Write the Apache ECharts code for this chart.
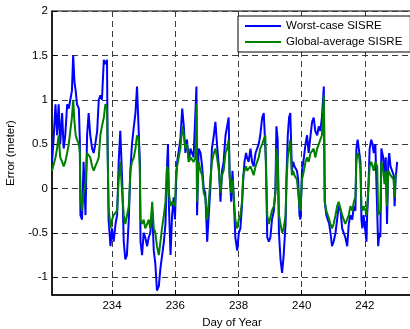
<!DOCTYPE html>
<html><head><meta charset="utf-8">
<script src="https://cdn.jsdelivr.net/npm/echarts@6/dist/echarts.min.js"></script>
<style>html,body{margin:0;padding:0;background:#fff}#c{width:410px;height:329px}</style>
</head><body><div id="c"></div>
<script>
var days = [232.10,232.15,232.21,232.26,232.31,232.36,232.42,232.47,232.52,232.58,232.63,232.68,232.73,232.77,232.81,232.85,232.89,232.95,232.98,233.00,
233.05,233.10,233.16,233.21,233.26,233.31,233.37,233.42,233.47,233.53,233.58,233.63,233.68,233.74,233.79,233.84,233.86,233.89,233.95,234.00,
234.05,234.11,234.16,234.21,234.26,234.32,234.37,234.42,234.47,234.53,234.58,234.63,234.69,234.74,234.79,234.84,234.88,234.90,234.95,235.00,
235.05,235.11,235.16,235.21,235.27,235.32,235.37,235.42,235.48,235.53,235.58,235.64,235.69,235.74,235.77,235.80,235.85,235.90,235.95,235.99,
236.03,236.06,236.11,236.16,236.22,236.27,236.32,236.37,236.43,236.48,236.53,236.58,236.64,236.67,236.69,236.74,236.80,236.85,236.90,236.95,
237.01,237.06,237.11,237.16,237.22,237.27,237.32,237.38,237.43,237.48,237.53,237.59,237.64,237.69,237.72,237.77,237.81,237.85,237.90,237.96,
238.01,238.06,238.11,238.15,238.19,238.24,238.27,238.32,238.38,238.43,238.48,238.54,238.59,238.64,238.69,238.75,238.80,238.85,238.87,238.91,
238.96,239.01,239.06,239.12,239.17,239.20,239.24,239.28,239.33,239.38,239.43,239.49,239.52,239.56,239.60,239.64,239.69,239.73,239.77,239.81,
239.85,239.89,239.93,239.96,240.01,240.07,240.12,240.17,240.22,240.28,240.33,240.38,240.43,240.49,240.54,240.59,240.64,240.70,240.73,240.78,
240.83,240.87,240.91,240.96,241.01,241.07,241.12,241.17,241.23,241.28,241.33,241.38,241.44,241.49,241.54,241.60,241.65,241.70,241.73,241.77,
241.82,241.86,241.89,241.92,241.96,242.02,242.05,242.07,242.10,242.15,242.20,242.24,242.28,242.33,242.39,242.42,242.46,242.49,242.52,242.58,
242.62,242.66,242.70,242.74,242.77,242.81,242.86,242.91,242.94,242.97,243.02];

var worstCase = [0.30,0.55,0.95,0.60,0.95,0.50,0.85,0.45,0.60,0.95,0.90,1.00,1.10,1.50,1.20,1.10,0.95,0.90,0.55,-0.30,
-0.35,0.30,-0.30,0.60,0.85,0.60,0.45,0.40,0.50,0.65,1.00,1.05,1.00,1.45,1.40,1.45,0.50,-0.35,-0.65,-0.45,
-0.60,-0.40,-0.30,0.30,0.65,0.10,-0.60,-0.80,-0.75,-0.35,0.20,0.50,0.70,0.85,1.15,1.15,0.30,-0.60,-0.75,-0.50,
-0.55,-0.65,-0.55,-0.50,-0.25,-0.70,-0.85,-1.15,-1.10,-0.90,-0.90,-0.60,-0.40,0.25,0.50,-0.20,-0.75,-0.30,-0.10,-0.35,
0.10,0.30,0.30,0.55,0.90,0.70,0.40,0.55,0.30,0.45,0.45,0.35,0.35,1.15,-0.30,0.45,0.40,0.25,0.00,-0.05,
-0.60,-0.30,0.00,0.45,0.60,0.75,0.50,0.25,-0.15,0.20,0.30,0.60,0.70,0.80,0.15,-0.15,0.20,-0.10,-0.55,-0.70,
-0.50,-0.45,-0.20,0.10,0.30,0.40,0.35,0.30,0.45,0.30,0.25,0.40,0.45,0.50,0.60,0.80,0.85,0.85,0.30,-0.55,
-0.60,-0.55,-0.35,-0.25,0.00,0.70,0.55,-0.50,-0.80,-0.95,-0.75,-0.40,0.15,0.60,0.80,0.85,0.20,0.30,0.25,0.25,
0.20,0.10,-0.30,-0.35,0.20,0.35,0.50,0.60,0.40,0.60,0.75,0.80,0.65,0.60,0.70,0.65,0.80,1.15,-0.15,-0.30,
-0.30,-0.40,-0.50,-0.65,-0.60,-0.50,-0.35,-0.20,-0.25,-0.45,-0.45,-0.55,-0.65,-0.40,-0.30,-0.35,-0.20,-0.25,0.45,0.55,
0.55,0.30,-0.35,-0.45,-0.30,-0.50,-0.60,-0.30,-0.10,0.45,0.55,0.50,0.40,0.50,0.50,-0.65,-0.50,-0.55,0.45,0.35,
0.15,0.35,-0.40,0.30,0.40,0.25,0.20,0.15,-0.20,0.10,0.30];

var globalAvg = [0.20,0.20,0.35,0.45,0.60,0.35,0.30,0.25,0.30,0.40,0.50,0.65,0.80,1.00,0.75,0.60,0.55,0.50,0.40,-0.10,
-0.25,-0.05,0.05,0.40,0.40,0.35,0.25,0.20,0.25,0.30,0.35,0.60,0.70,0.80,0.95,0.90,0.40,-0.20,-0.45,-0.35,
-0.30,-0.30,-0.25,0.10,0.30,-0.05,-0.30,-0.40,-0.40,-0.20,0.20,0.30,0.35,0.45,0.60,0.55,0.20,-0.35,-0.40,-0.35,
-0.45,-0.40,-0.35,-0.45,-0.15,-0.45,-0.50,-0.65,-0.75,-0.60,-0.45,-0.30,-0.15,0.25,0.20,-0.05,-0.20,-0.15,-0.15,-0.20,
0.20,0.25,0.35,0.45,0.70,0.60,0.45,0.50,0.30,0.35,0.35,0.30,0.35,0.95,-0.15,0.30,0.20,0.15,-0.05,-0.10,
-0.35,-0.15,0.10,0.30,0.40,0.45,0.35,0.20,-0.05,0.15,0.20,0.40,0.45,0.55,0.15,-0.05,0.10,-0.10,-0.35,-0.45,
-0.35,-0.30,-0.15,0.15,0.20,0.25,0.20,0.20,0.25,0.20,0.15,0.25,0.30,0.35,0.45,0.50,0.55,0.60,0.20,-0.30,
-0.40,-0.40,-0.25,-0.20,-0.05,0.45,0.35,-0.30,-0.40,-0.50,-0.45,-0.30,0.10,0.35,0.45,0.55,0.15,0.20,0.15,0.15,
0.10,0.10,-0.20,-0.25,0.10,0.20,0.30,0.35,0.30,0.40,0.40,0.45,0.35,0.45,0.50,0.55,0.60,1.05,-0.15,-0.25,
-0.25,-0.35,-0.40,-0.45,-0.40,-0.30,-0.20,-0.15,-0.15,-0.30,-0.35,-0.40,-0.40,-0.30,-0.20,-0.25,-0.15,-0.10,0.30,0.40,
0.35,0.20,-0.20,-0.25,-0.20,-0.25,-0.30,-0.20,-0.05,0.25,0.30,0.25,0.20,0.30,0.25,-0.30,-0.30,-0.25,0.30,0.20,
0.05,0.20,-0.20,0.20,0.20,0.15,0.15,0.10,-0.10,0.15,0.15];

var xTicks = [234, 236, 238, 240, 242];
var yTicks = [-1, -0.5, 0, 0.5, 1, 1.5, 2];

function pairs(xs, ys) { return xs.map(function (x, i) { return [x, ys[i]]; }); }

var font = 'Liberation Sans, Arial, sans-serif';
var chart = echarts.init(document.getElementById('c'), null, {renderer: 'canvas'});
var gridLine = {show: true, lineStyle: {color: '#3a3a3a', width: 1, type: [6, 4]}};
chart.setOption({
  animation: false,
  backgroundColor: '#fff',
  grid: {left: 52, top: 11, right: -2, bottom: 34, containLabel: false, outerBoundsMode: 'none',
         show: true, borderColor: '#000', borderWidth: 1, backgroundColor: 'transparent'},
  legend: {
    left: 238, top: 16, orient: 'vertical',
    backgroundColor: '#fff', borderColor: '#000', borderWidth: 1, borderRadius: 0,
    padding: [4, 8, 4, 7], itemGap: 4, itemWidth: 36, itemHeight: 13,
    icon: 'path://M0,0 L36,0 L36,2 L0,2 Z', symbolKeepAspect: true,
    textStyle: {fontFamily: font, fontSize: 11.5, color: '#000'},
    data: ['Worst-case SISRE', 'Global-average SISRE']
  },
  xAxis: {
    type: 'value', min: 232.1, max: 243.49,
    name: 'Day of Year', nameLocation: 'middle', nameGap: 21,
    nameTextStyle: {fontFamily: font, fontSize: 11.5, color: '#000'},
    axisLine: {show: true, onZero: false, lineStyle: {color: '#000', width: 1.5}},
    axisTick: {show: true, inside: true, length: 5, customValues: xTicks, lineStyle: {color: '#000'}},
    axisLabel: {customValues: xTicks, fontFamily: font, fontSize: 11.5, color: '#000', margin: 5},
    splitLine: gridLine
  },
  yAxis: {
    type: 'value', min: -1.2, max: 2,
    name: 'Error (meter)', nameLocation: 'middle', nameGap: 30, nameRotate: 90,
    nameTextStyle: {fontFamily: font, fontSize: 11.5, color: '#000'},
    axisLine: {show: true, onZero: false, lineStyle: {color: '#000', width: 1.5}},
    axisTick: {show: true, inside: true, length: 5, customValues: yTicks, lineStyle: {color: '#000'}},
    axisLabel: {customValues: yTicks, fontFamily: font, fontSize: 11.5, color: '#000', margin: 4},
    splitLine: gridLine
  },
  series: [
    {name: 'Worst-case SISRE', type: 'line', data: pairs(days, worstCase), symbol: 'none', showSymbol: false,
     lineStyle: {color: '#0000ff', width: 2}, itemStyle: {color: '#0000ff'}, z: 2},
    {name: 'Global-average SISRE', type: 'line', data: pairs(days, globalAvg), symbol: 'none', showSymbol: false,
     lineStyle: {color: '#008000', width: 2}, itemStyle: {color: '#008000'}, z: 3}
  ]
});
</script></body></html>
